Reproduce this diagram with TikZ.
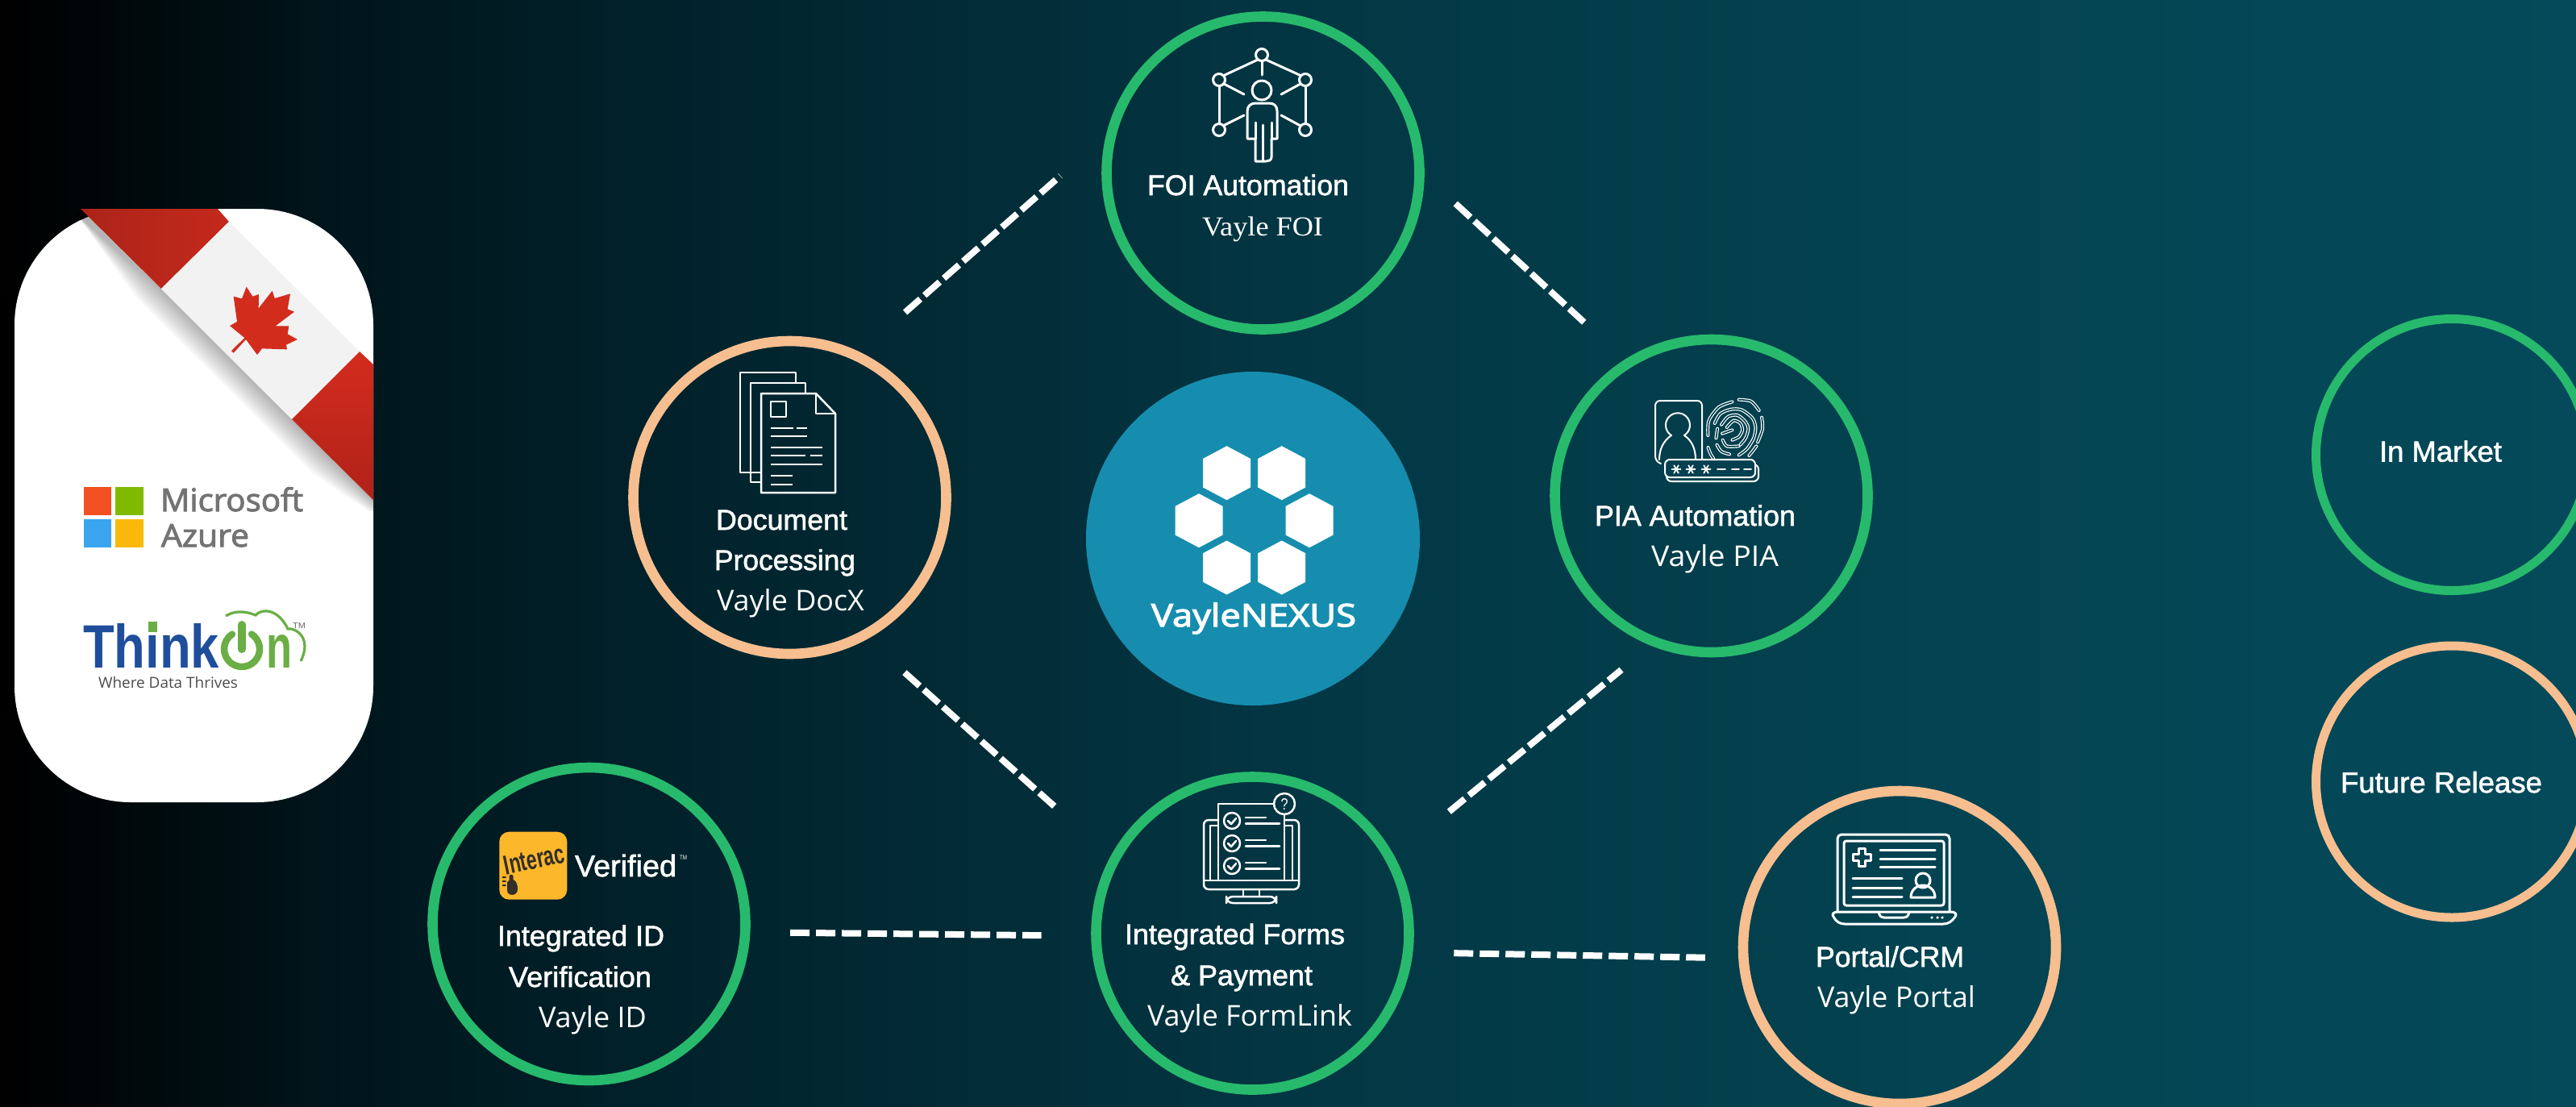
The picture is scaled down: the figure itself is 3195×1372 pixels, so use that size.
\documentclass[tikz,border=0pt]{standalone}
\usepackage{fontspec}
\usepackage{graphicx}
\usetikzlibrary{calc}
\setmainfont{Liberation Sans}
\newfontfamily\lab[FakeBold=1.6]{Liberation Sans}
\newfontfamily\subf{Open Sans}
\newfontfamily\msf[FakeBold=2.5]{Open Sans}
\newfontfamily\nexf[FakeBold=3]{Open Sans}
\newfontfamily\serf{Liberation Serif}
\newfontfamily\arialf{Liberation Sans}
\newcommand\tx[3]{\resizebox{\dimexpr #1pt/2\relax}{\height}{\fontsize{#2}{#2}\selectfont #3}}
\definecolor{bgA}{HTML}{00141A}
\definecolor{bgB}{HTML}{01212A}
\definecolor{bgC}{HTML}{033643}
\definecolor{bgD}{HTML}{044351}
\definecolor{bgF}{HTML}{044A5A}
\pgfdeclarehorizontalshading{bgsh}{100bp}{color(0bp)=(black); color(25bp)=(black);
  color(31bp)=(bgA); color(37.5bp)=(bgB); color(50bp)=(bgC); color(62.5bp)=(bgD); color(75bp)=(bgF); color(100bp)=(bgF)}
\definecolor{grn}{HTML}{27BA6D}
\definecolor{pch}{HTML}{F7BE8F}
\definecolor{nex}{HTML}{168DAE}
\definecolor{thinkb}{HTML}{1F4F9C}
\definecolor{thinkg}{HTML}{6AAE45}
\definecolor{fpbg}{HTML}{04404F}
\definecolor{intk}{HTML}{322E28}
\tikzset{
  ring/.style={circle,minimum size=194pt,line width=6.3pt,inner sep=0pt,outer sep=0pt,draw=#1},
  smallring/.style={circle,minimum size=168.5pt,line width=5.5pt,inner sep=0pt,outer sep=0pt,draw=#1},
  txt/.style={anchor=base west,inner sep=0pt,outer sep=0pt,text=white},
  dashln/.style={draw=white,line width=4pt,dash pattern=on 12.5pt off 3.5pt},
  ic/.style={draw=white,line width=1.25pt,line cap=round,line join=round},
  ict/.style={draw=white,line width=1.5pt,line cap=round,line join=round},
  fp/.style={white,line width=.6pt,double=fpbg,double distance=.8pt,line cap=round},
  hex/.pic={\fill[white] (0,-33.5)--(29.5,-17.8)--(29.5,17.8)--(0,33.5)--(-29.5,17.8)--(-29.5,-17.8)--cycle;},
}
\begin{document}
\begin{tikzpicture}[x=.5pt,y=-.5pt]
\useasboundingbox (0,0) rectangle (3195,1372);
\shade[shading=bgsh] (0,0) rectangle (3195,1372);
\begin{scope}
\clip (0,0) rectangle (3195,1372);
% card
\fill[white,rounded corners=72pt] (18,259) rectangle (463,995);
\begin{scope}
\clip (18,259) rectangle (463,633);
\foreach \d in {3,6,...,30}{
  \fill[black,opacity=.03] (95,266) -- ({191-.7*\d},{349+.7*\d}) -- ({409-.7*\d},{566+.7*\d}) -- (463,{620+.6*\d}) -- (463,620) -- (100,259) -- cycle;
}
\end{scope}
\shade[left color={rgb,255:red,172;green,36;blue,25},right color={rgb,255:red,196;green,41;blue,28}] (100,259) -- (270,259) -- (284,275) -- (200,358) -- cycle;
\fill[white!95!black] (284,275) -- (446,436) -- (362,520) -- (200,358) -- cycle;
\shade[top color={rgb,255:red,211;green,44;blue,30},bottom color={rgb,255:red,176;green,34;blue,24}] (446,436) -- (463,452) -- (463,620) -- (362,520) -- cycle;
\begin{scope}[x=0.16667pt,y=-0.16667pt,shift={(825,1035)}]
\fill[fill={rgb,255:red,210;green,44;blue,29}] (36,270) -- (85,222) -- (30,177) -- (57,162) -- (44,68) -- (75,76) -- (92,32) -- (115,68) -- (138,60) -- (137,112) -- (188,47) -- (197,75) -- (255,58) -- (245,115) -- (270,125) -- (200,178) -- (250,178) -- (245,208) -- (282,228) -- (240,248) -- (243,265) -- (150,262) -- (132,285) -- (90,228) -- (44,278) -- cycle;
\end{scope}
% azure
\fill[fill={rgb,255:red,242;green,80;blue,34}] (104,604) rectangle (138,639);
\fill[fill={rgb,255:red,127;green,186;blue,0}] (143,604) rectangle (178,639);
\fill[fill={rgb,255:red,58;green,165;blue,238}] (104,644) rectangle (138,679);
\fill[fill={rgb,255:red,250;green,185;blue,10}] (143,644) rectangle (178,679);
\node[txt,text={rgb,255:red,115;green,115;blue,115}] (msA) at (199,634) {\tx{177}{19.5}{\msf Microsoft}};
\node[txt,text={rgb,255:red,115;green,115;blue,115}] (msB) at (200,678) {\tx{109}{19.5}{\msf Azure}};
% thinkon
\node[txt,text=thinkb] (thk) at (103,828) {\tx{169}{38}{\arialf\bfseries Think}};
\fill[thinkg] (184,771) rectangle (195,784);
\draw[thinkg,line width=4.2pt,line cap=round] (312,786.5) arc[start angle=-57,end angle=237,radius=22];
\draw[thinkg,line width=5pt,line cap=round] (300,775) -- (300,805);
\node[txt,text=thinkg] (thn) at (330,828) {\tx{32}{38}{\arialf\bfseries n}};
\draw[thinkg,line width=1.6pt] (280,764) .. controls (288,759) and (300,756) .. (317,763) .. controls (325,754) and (345,755) .. (357,780) .. controls (365,778) and (388,790) .. (373,820);
\node[txt,text=black!60] (thtm) at (363,779) {\tx{16}{5}{\arialf TM}};
\node[txt,text=black!70] (thw) at (122,853) {\tx{173}{9.35}{\subf Where Data Thrives}};
% nexus
\node[circle,minimum size=207pt,fill=nex,inner sep=0pt,outer sep=0pt] (nexus) at (1554,668) {};
\foreach \p in {(1521.5,586.7),(1589.7,586.7),(1487,645.7),(1624,645.7),(1521.5,704),(1589.7,704)}{
  \pic at \p {hex};
}
\node[txt] (nexl) at (1428,777) {\tx{254}{19.5}{\nexf VayleNEXUS}};
% rings
\node[ring=grn] (foi) at (1566.5,214.5) {};
\node[ring=pch] (doc) at (979.5,617) {};
\node[ring=grn] (pia) at (2122.5,615) {};
\node[ring=grn] (idv) at (730.5,1146) {};
\node[ring=grn] (frm) at (1553.5,1157.5) {};
\node[ring=pch] (por) at (2356,1175) {};
\node[smallring=grn] (inm) at (3041,564) {};
\node[smallring=pch] (fut) at (3041,969.5) {};
% connectors
\draw[dashln,shorten <=40.7pt,shorten >=43.2pt] (doc.65.6) -- (foi.164.7);
\draw[dashln,shorten <=30.5pt,shorten >=36.3pt] (foi.1.2) -- (pia.122.6);
\draw[dashln,shorten <=34.4pt,shorten >=49.4pt] (doc.-62.7) -- (frm.152.4);
\draw[dashln,shorten <=47pt,shorten >=27.2pt] (frm.28.4) -- (pia.249.4);
\draw[dashln,dash pattern=on 12pt off 4pt,shorten <=27.9pt,shorten >=34pt] (idv.-3.3) -- (frm.181.6);
\draw[dashln,dash pattern=on 12pt off 4pt,shorten <=28.6pt,shorten >=23.8pt] (frm.-7.6) -- (por.184.7);
% labels
\node[txt] (l1a) at (1423,242) {\tx{250}{17.75}{\lab FOI Automation}};
\node[txt] (l1b) at (1491,292) {\tx{150}{17}{\serf Vayle FOI}};
\node[txt] (l2a) at (888,657) {\tx{163}{17.75}{\lab Document}};
\node[txt] (l2b) at (886,707) {\tx{175}{17.75}{\lab Processing}};
\node[txt] (l2c) at (889,757) {\tx{183}{17.75}{\subf Vayle DocX}};
\node[txt] (l3a) at (1978,652) {\tx{249}{17.75}{\lab PIA Automation}};
\node[txt] (l3b) at (2048,702) {\tx{158}{17.75}{\subf Vayle PIA}};
\node[txt] (l4a) at (617,1173) {\tx{207}{17.75}{\lab Integrated ID}};
\node[txt] (l4b) at (631,1224) {\tx{177}{17.75}{\lab Verification}};
\node[txt] (l4c) at (668,1274) {\tx{134}{17.75}{\subf Vayle ID}};
\node[txt] (l5a) at (1395,1171) {\tx{273}{17.75}{\lab Integrated Forms}};
\node[txt] (l5b) at (1452,1222) {\tx{176}{17.75}{\lab \& Payment}};
\node[txt] (l5c) at (1423,1272) {\tx{254}{17.75}{\subf Vayle FormLink}};
\node[txt] (l6a) at (2252,1199) {\tx{184}{17.75}{\lab Portal/CRM}};
\node[txt] (l6b) at (2254,1249) {\tx{196}{17.75}{\subf Vayle Portal}};
\node[txt] (l7) at (2951,572.5) {\tx{152}{18}{\lab In Market}};
\node[txt] (l8) at (2903,983) {\tx{250}{18}{\lab Future Release}};
% FOI icon
\foreach \p in {(1565,68),(1512,99),(1619,99),(1512,161),(1619,161)}{\draw[ict] \p circle (7.5);}
\draw[ict] (1565,112) circle (12);
\draw[ict] (1560,74) -- (1517,94) (1570,74) -- (1614,94);
\draw[ict] (1565,76) -- (1565,93) (1512,107) -- (1512,153) (1619,107) -- (1619,153);
\draw[ict] (1518,104) -- (1543,117) (1613,104) -- (1589,117) (1543,143) -- (1517,156) (1589,143) -- (1613,156);
\draw[ict] (1557,200) -- (1557,172) -- (1547,172) -- (1547,138) .. controls (1547,131) and (1552,128) .. (1557,128) -- (1574,128) .. controls (1580,128) and (1584,131) .. (1584,138) -- (1584,172) -- (1577,172) -- (1577,195) .. controls (1577,199) and (1573,200) .. (1570,200) -- (1557,200);
\draw[ict] (1557,172) -- (1557,152) (1577,172) -- (1577,152) (1566,200) -- (1566,155);
% DOC icon
\draw[ic,line cap=butt] (944,586) -- (918,586) -- (918,462) -- (987,462) -- (987,475);
\draw[ic,line cap=butt] (944,598) -- (931,598) -- (931,475) -- (999,475) -- (999,488);
\draw[ic,line cap=butt] (944,488) -- (1012,488) -- (1036,513) -- (1036,611) -- (944,611) -- cycle;
\draw[ic,line cap=butt] (1012,488) -- (1012,513) -- (1036,513);
\draw[ic,line cap=butt] (956,498) rectangle (975,517);
\draw[ic,line cap=butt] (956,531) -- (984,531) (988,531) -- (1001,531) (956,541) -- (1001,541) (956,555) -- (1020,555) (956,565) -- (999,565) (1005,565) -- (1020,565) (956,576) -- (1020,576) (956,590) -- (983,590) (956,601) -- (983,601);
% PIA icon
\draw[ic,line width=1pt,rounded corners=3pt] (2060,575) -- (2053,572) -- (2053,497) -- (2111,497) -- (2111,572);
\draw[ic,line width=1pt] (2058,570) .. controls (2058,556) and (2064,546) .. (2073,540) arc[start angle=122,end angle=418,radius=15] .. controls (2098,546) and (2103,556) .. (2103,570);
\begin{scope}[x=0.16667pt,y=-0.16667pt,shift={(6300,1455)}]
\draw[fp] plot[smooth] coordinates {(55,165) (58,110) (95,60) (145,40)};
\draw[fp] plot[smooth] coordinates {(170,32) (215,38) (245,72)};
\draw[fp] plot[smooth] coordinates {(255,98) (258,140) (240,190)};
\draw[fp] plot[smooth] coordinates {(235,205) (220,225) (208,240)};
\draw[fp] plot[smooth] coordinates {(55,210) (65,235) (75,250)};
\draw[fp] plot[smooth] coordinates {(80,120) (100,85) (140,68) (180,70) (220,100) (232,135) (225,175) (200,215) (170,238)};
\draw[fp] plot[smooth] coordinates {(90,140) (85,175)};
\draw[fp] plot[smooth] coordinates {(88,200) (105,225) (135,235)};
\draw[fp] plot[smooth] coordinates {(105,125) (130,95) (165,90) (195,115) (205,140) (195,175) (175,200)};
\draw[fp] plot[smooth] coordinates {(110,182) (125,205) (170,205)};
\draw[fp] plot[smooth] coordinates {(125,135) (150,110) (175,120) (183,145) (170,170) (145,182)};
\draw[fp] plot[smooth] coordinates {(108,158) (145,145)};
\end{scope}
\draw[ic,line width=1pt,fill=fpbg,rounded corners=3pt] (2067,576) rectangle (2181,597);
\draw[ic,line width=1pt,fill=fpbg,rounded corners=3pt] (2065,570) rectangle (2177,592);
\foreach \sx in {2079,2097,2116}{
  \foreach \a in {0,60,120}{\draw[ic,line width=.9pt] ($(\sx,582)+(\a:5.5)$) -- ($(\sx,582)+(\a+180:5.5)$);}
}
\draw[ic,line width=.9pt] (2130,582) -- (2140,582) (2148,582) -- (2157,582) (2163,582) -- (2172,582);
% Interac
\fill[fill={rgb,255:red,253;green,183;blue,43},rounded corners=6pt] (619.3,1031.7) rectangle (703.3,1115.7);
\node[inner sep=0pt,text=intk,rotate=12] (ilg) at (662.5,1066) {\tx{76}{17}{\arialf\bfseries Interac}};
\fill[intk] (631.5,1087) .. controls (631.5,1084) and (636.5,1084) .. (636.5,1087) -- (636.5,1091) .. controls (641,1093) and (642,1098) .. (642,1103) .. controls (642,1112) and (629,1112) .. (629,1104) -- (629,1094) -- (631.5,1092) -- cycle;
\fill[intk] (623,1087) rectangle (627.5,1089) (623,1092) rectangle (627.5,1094) (623,1097) rectangle (627.5,1099);
\node[txt] (ver) at (713,1087) {\tx{126}{18.8}{\lab Verified}};
\node[txt] (vtm) at (843,1066) {\tx{9}{4}{\arialf TM}};
% Forms icon
\draw[ic,rounded corners=3pt] (1511,1017) -- (1493,1017) -- (1493,1103) -- (1611,1103) -- (1611,1017) -- (1593,1017);
\draw[ic] (1493,1092) -- (1611,1092);
\draw[ic] (1511,1024) -- (1501,1024) -- (1501,1092) (1593,1024) -- (1603,1024) -- (1603,1092);
\draw[ic] (1511,1092) -- (1511,997) -- (1580,997) (1593,1011) -- (1593,1092);
\draw[ic] (1593,997) circle (13);
\node[inner sep=0pt,text=white] (qm) at (1593,997) {\tx{9}{10}{\arialf ?}};
\foreach \y in {1018,1046,1074}{
  \draw[ic] (1528,\y) circle (10);
  \draw[ic] (1523,\y) -- (1527,{\y+4}) -- (1533,{\y-3});
  \draw[ic] (1545,{\y-4}) -- (1570,{\y-4}) (1545,{\y+3.5}) -- (1587,{\y+3.5});
}
\draw[ic] (1542,1103) -- (1542,1112) (1562,1103) -- (1562,1112);
\draw[ic,rounded corners=4pt] (1521,1112) rectangle (1583,1120);
% Portal icon
\draw[ict,rounded corners=2.5pt] (2279,1130) -- (2279,1035) -- (2418,1035) -- (2418,1130);
\draw[ict,rounded corners=1.5pt] (2287,1043) rectangle (2411,1123);
\draw[ict] (2280,1131) -- (2419,1131) .. controls (2426,1131) and (2427,1134) .. (2425,1137) .. controls (2421,1143) and (2416,1146) .. (2410,1146) -- (2288,1146) .. controls (2282,1146) and (2277,1143) .. (2274,1137) .. controls (2272,1134) and (2273,1131) .. (2280,1131);
\draw[ict] (2330,1131) .. controls (2331,1136) and (2333,1138) .. (2337,1138) -- (2361,1138) .. controls (2365,1138) and (2367,1136) .. (2368,1131);
\foreach \x in {2396,2403,2409}{\fill[white] (\x,1138) circle (1.8);}
\draw[ict] (2305,1052) -- (2313,1052) -- (2313,1059) -- (2320,1059) -- (2320,1067) -- (2313,1067) -- (2313,1074) -- (2305,1074) -- (2305,1067) -- (2298,1067) -- (2298,1059) -- (2305,1059) -- cycle;
\draw[ict] (2332,1054) -- (2400,1054) (2332,1065) -- (2400,1065) (2332,1075) -- (2400,1075);
\draw[ict] (2298,1089) -- (2359,1089) (2298,1101) -- (2359,1101) (2298,1112) -- (2359,1112);
\draw[ict] (2385,1092) circle (9);
\draw[ict] (2370,1113) .. controls (2370,1103) and (2378,1098) .. (2385,1098) .. controls (2392,1098) and (2400,1103) .. (2400,1113) -- cycle;
\end{scope}
\end{tikzpicture}
\end{document}
